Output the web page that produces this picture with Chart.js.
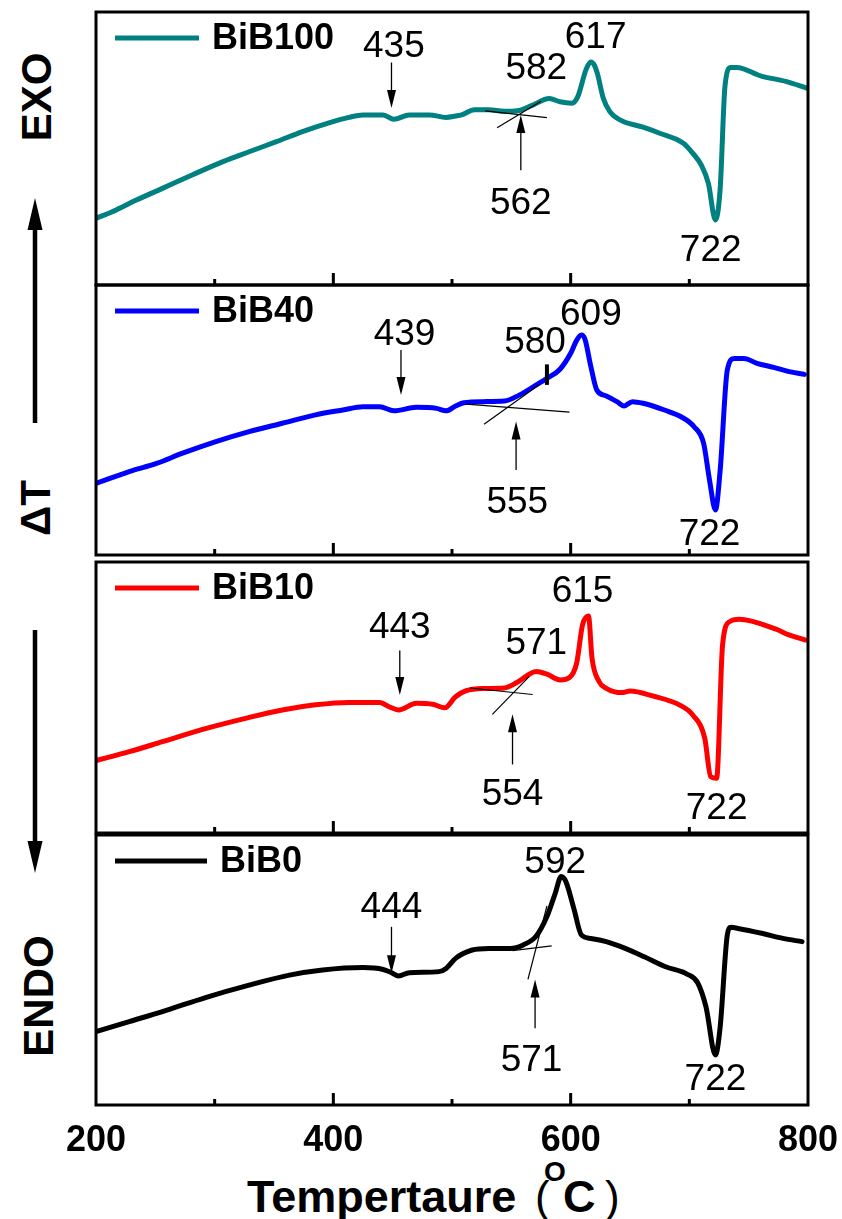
<!DOCTYPE html>
<html>
<head>
<meta charset="utf-8">
<title>DTA BiB</title>
<script src="https://cdn.jsdelivr.net/npm/chart.js@4.4.1/dist/chart.umd.min.js"></script>
<style>
  html, body { margin: 0; background: #fff; }
  #page { position: relative; width: 842px; height: 1219px; overflow: hidden; }
  #page canvas { position: absolute; left: 0; }
  #deco { position: absolute; left: 0; top: 0; }
</style>
</head>
<body>
<div id="page">
  <svg id="deco" width="842" height="1219" font-family="'Liberation Sans', Arial, sans-serif">
    <!-- EXO / ΔT / ENDO と矢印 -->
    <text transform="translate(36,97) rotate(-90)" text-anchor="middle" dominant-baseline="central" font-weight="bold" font-size="42">EXO</text>
    <line x1="35" y1="423" x2="35" y2="225" stroke="#000" stroke-width="4.5"/>
    <polygon points="35,198 27.5,230 42.5,230" fill="#000"/>
    <text transform="translate(35,508) rotate(-90)" text-anchor="middle" dominant-baseline="central" font-weight="bold" font-size="42">ΔT</text>
    <line x1="35" y1="630" x2="35" y2="846" stroke="#000" stroke-width="4.5"/>
    <polygon points="35,873 27.5,841 42.5,841" fill="#000"/>
    <text transform="translate(38,996) rotate(-90)" text-anchor="middle" dominant-baseline="central" font-weight="bold" font-size="42">ENDO</text>
    <!-- x軸タイトル -->
    <text x="247" y="1212" font-weight="bold" font-size="45">Tempertaure</text>
    <text x="535" y="1212" font-size="44">(</text>
    <text x="544" y="1181" font-weight="bold" font-size="28">O</text>
    <text x="563" y="1212" font-weight="bold" font-size="45">C</text>
    <text x="605" y="1212" font-size="44">)</text>
  </svg>
  <canvas id="p0"></canvas>
  <canvas id="p1"></canvas>
  <canvas id="p2"></canvas>
  <canvas id="p3"></canvas>
</div>
<script>
/* DTA曲線 4試料: BiB100 / BiB40 / BiB10 / BiB0 (縦軸は各パネル 0-100 の相対値) */

const X_LABELS = [200, 400, 600, 800];
const MAJOR_TICKS = [400, 600];
const MINOR_TICKS = [300, 500, 700];

const SAMPLES = ["BiB100", "BiB40", "BiB10", "BiB0"];
const COLORS = ["#008080", "#0000ff", "#ff0000", "#000000"];

const bib100T = [200, 217, 234, 256, 281, 307, 329, 352, 374, 397, 413, 425, 442, 451, 464, 481, 495, 503, 508, 519, 531, 544, 555, 567, 582, 591, 601, 606, 613, 617, 620, 622.5, 627.5, 633, 642, 661, 675, 695, 703, 710, 716, 722, 726, 730, 735, 740, 760, 782, 799];
const bib100V = [24.4, 27.5, 31.1, 35.4, 40.3, 45.2, 48.8, 52.5, 56.2, 59.5, 61.4, 62.3, 62.3, 60.7, 62.3, 62.3, 61.4, 61.9, 62.3, 64.2, 64.2, 63.6, 63.8, 65.7, 68.3, 67.1, 66.6, 69, 79, 81.7, 80.5, 77.5, 68.4, 63.5, 60.4, 57.8, 55.6, 51.9, 48.2, 44, 37.3, 23.8, 35.4, 72.6, 79.7, 79.7, 76.6, 74.5, 72.1];

const bib40T = [200, 228, 251, 273, 301, 329, 357, 385, 408, 425, 439, 451, 470, 487, 495, 503, 510, 526, 544, 557, 571, 580, 591, 600, 605, 609, 612, 617, 622, 630, 639, 645, 652, 661, 679, 693, 704, 712, 717, 722, 726, 732, 738, 746, 757, 771, 784, 797];
const bib40V = [26.5, 30.9, 33.9, 37.7, 42, 45.7, 48.8, 51.9, 53.7, 54.9, 54.9, 53.4, 54.7, 54.3, 53.4, 55.2, 56.4, 56.8, 57, 59.3, 63, 65.4, 68.8, 74.7, 79.5, 81.5, 80, 69.8, 61.1, 58.9, 56.8, 55.2, 56.8, 56.2, 53.7, 51.2, 47.5, 41.4, 27.8, 16.7, 31.5, 68.5, 72.8, 72.8, 71, 69.5, 67.9, 66.9];

const bib10T = [200, 228, 256, 293, 326, 357, 385, 413, 439, 447, 455, 470, 484, 494, 503, 512, 526, 544, 555, 571, 580, 591, 599, 605, 610, 615, 618, 624, 630, 643, 650, 669, 692, 703, 713, 718, 723, 728, 734, 742, 773, 784, 798];
const bib10V = [26.7, 30, 33.7, 38.6, 42.3, 45.4, 47.3, 48.2, 48.2, 46.6, 45.4, 47.9, 47.5, 46.2, 50.3, 52.5, 53.3, 53.5, 55.6, 59.6, 58.6, 56.5, 57.4, 62.6, 76.8, 80.1, 64.5, 55.8, 53.4, 51.8, 52.4, 50.6, 47.2, 43.5, 34.9, 20.8, 20.2, 69.4, 78, 78.9, 75.2, 73.1, 71.2];

const bib0T = [200, 228, 256, 293, 329, 363, 391, 425, 442, 449, 455, 464, 489, 495, 503, 517, 531, 549, 560, 571, 580, 587, 592, 596, 603, 609, 617, 630, 646, 662, 680, 698, 707, 714, 722, 726, 732, 735, 741, 761, 779, 795];
const bib0V = [27.2, 30.9, 34.6, 39.9, 44.4, 48.1, 50, 50.9, 50.2, 49, 47.8, 49, 49.4, 50.6, 54.3, 57.4, 58, 58, 59.3, 62.6, 69.8, 78.4, 84.6, 82.7, 72.2, 63, 61.7, 60.5, 58, 54.9, 51.2, 48.5, 45.3, 36.4, 18.5, 29, 63, 65.8, 65.4, 63.6, 61.7, 60.5];

// 温度の書き込み [文字, 温度, 縦位置]
const bib100Notes = [["435", 451, 88.3], ["582", 571, 80.2], ["617", 621, 91.4], ["562", 558, 30.9], ["722", 718, 13.6]];
const bib40Notes = [["439", 460, 82.7], ["580", 570, 79.6], ["609", 617, 90.1], ["555", 555, 20.4], ["722", 717, 8.6]];
const bib10Notes = [["443", 456, 76.8], ["571", 571, 71], ["615", 610, 90.1], ["554", 551, 15.1], ["722", 723, 9.9]];
const bib0Notes = [["444", 449, 74.1], ["592", 587, 90.7], ["571", 567, 17.3], ["722", 722, 10.5]];

// 矢印 [温度, 始点, 先端]
const bib100Arrows = [[449, 81.5, 64.8], [558, 42, 62.3]];
const bib40Arrows = [[457, 75.9, 59.3], [554, 31.5, 49.4]];
const bib10Arrows = [[456, 67.3, 50.9], [551, 25.3, 43.8]];
const bib0Arrows = [[449, 66, 48.8], [570, 28.4, 46.5]];

// 開始温度の接線 [t1, v1, t2, v2]
const bib100Tangents = [[528, 63.8, 580, 61.3], [538, 57.6, 575, 67.3]];
const bib40Tangents = [[512, 55.9, 599, 52.9], [527, 48.4, 574, 63.2]];
const bib10Tangents = [[515, 53.5, 568, 51.1], [534, 43.8, 565, 57.7]];
const bib0Tangents = [[551, 57.2, 584, 58.9], [564, 46.5, 580, 73.7]];

// BiB40 の 580 の印
const bib40Mark = [580, 63, 70.6];

const PANELS = [[12, 285], [285, 555], [562, 833], [835, 1105]];
const FONT = '"Liberation Sans", Arial, Helvetica, sans-serif';

const dtaDecor = {
  id: "dtaDecor",
  afterDatasetsDraw(chart, args, o) {
    const { ctx, chartArea: a, scales: { x, y } } = chart;
    ctx.save();
    ctx.strokeStyle = "#000";
    ctx.fillStyle = "#000";

    // 枠と内向き目盛
    ctx.lineWidth = 3;
    ctx.strokeRect(a.left, a.top, a.right - a.left, a.bottom - a.top);
    ctx.beginPath();
    MAJOR_TICKS.forEach((t) => {
      const px = x.getPixelForValue(t);
      ctx.moveTo(px, a.bottom);
      ctx.lineTo(px, a.bottom - 12);
    });
    MINOR_TICKS.forEach((t) => {
      const px = x.getPixelForValue(t);
      ctx.moveTo(px, a.bottom);
      ctx.lineTo(px, a.bottom - 6);
    });
    ctx.stroke();

    // 凡例
    const ly = a.top + 26;
    ctx.strokeStyle = o.color;
    ctx.lineWidth = 5;
    ctx.beginPath();
    ctx.moveTo(a.left + 19, ly);
    ctx.lineTo(a.left + o.lineEnd, ly);
    ctx.stroke();
    ctx.font = `bold 36px ${FONT}`;
    ctx.textAlign = "left";
    ctx.textBaseline = "middle";
    ctx.fillText(o.name, a.left + o.lineEnd + 13, ly + 1);

    // 矢印
    ctx.strokeStyle = "#000";
    ctx.lineWidth = 1.3;
    o.arrows.forEach(([t, from, to]) => {
      const px = x.getPixelForValue(t);
      const y0 = y.getPixelForValue(from);
      const y1 = y.getPixelForValue(to);
      const dir = Math.sign(y1 - y0);
      ctx.beginPath();
      ctx.moveTo(px, y0);
      ctx.lineTo(px, y1 - dir * 12);
      ctx.stroke();
      ctx.beginPath();
      ctx.moveTo(px, y1);
      ctx.lineTo(px - 4.5, y1 - dir * 18);
      ctx.lineTo(px + 4.5, y1 - dir * 18);
      ctx.closePath();
      ctx.fill();
    });

    // 温度の数字
    ctx.font = `37px ${FONT}`;
    ctx.textAlign = "center";
    ctx.textBaseline = "alphabetic";
    o.notes.forEach(([s, t, v]) => {
      ctx.fillText(s, x.getPixelForValue(t), y.getPixelForValue(v) + 13);
    });
    ctx.restore();
  },
};

function pts(T, V) {
  return T.map((t, i) => ({ x: t, y: V[i] }));
}

function makePanel(i, T, V, notes, arrows, tangents, extra) {
  const [top, bottom] = PANELS[i];
  const last = i === PANELS.length - 1;
  const canvas = document.getElementById("p" + i);
  canvas.width = 842;
  canvas.height = bottom - top + 20 + (last ? 60 : 20);
  canvas.style.top = top - 20 + "px";

  const datasets = [
    {
      data: pts(T, V),
      borderColor: COLORS[i],
      borderWidth: 5,
      pointRadius: 0,
      cubicInterpolationMode: "monotone",
      borderJoinStyle: "round",
      borderCapStyle: "round",
      order: 2,
    },
  ];
  tangents.forEach(([t1, v1, t2, v2]) => {
    datasets.push({
      data: [{ x: t1, y: v1 }, { x: t2, y: v2 }],
      borderColor: "#000",
      borderWidth: 1.2,
      pointRadius: 0,
      order: 1,
    });
  });
  if (extra) {
    datasets.push({
      data: [{ x: extra[0], y: extra[1] }, { x: extra[0], y: extra[2] }],
      borderColor: "#000",
      borderWidth: 4,
      pointRadius: 0,
      order: 0,
    });
  }

  const xScale = {
    type: "linear",
    min: 200,
    max: 800,
    display: false,
  };
  if (last) {
    // 最下段のみ温度目盛の数字を出す
    Object.assign(xScale, {
      display: true,
      grid: { display: false, drawTicks: false },
      border: { display: false },
      afterBuildTicks: (s) => {
        s.ticks = X_LABELS.map((value) => ({ value }));
      },
      afterFit: (s) => {
        s.height = 60;
        s.paddingLeft = 0;
        s.paddingRight = 0;
      },
      ticks: {
        color: "#000",
        padding: 14,
        maxRotation: 0,
        font: { family: FONT, size: 36, weight: "bold" },
      },
    });
  }

  new Chart(canvas, {
    type: "line",
    data: { datasets },
    options: {
      responsive: false,
      animation: false,
      events: [],
      layout: { padding: { left: 96, right: 34, top: 20, bottom: last ? 0 : 20 } },
      scales: {
        x: xScale,
        y: { type: "linear", min: 0, max: 100, display: false },
      },
      plugins: {
        legend: { display: false },
        tooltip: { enabled: false },
        dtaDecor: {
          name: SAMPLES[i],
          color: COLORS[i],
          lineEnd: last ? 111 : 103,
          notes,
          arrows,
        },
      },
    },
    plugins: [dtaDecor],
  });
}

makePanel(0, bib100T, bib100V, bib100Notes, bib100Arrows, bib100Tangents);
makePanel(1, bib40T, bib40V, bib40Notes, bib40Arrows, bib40Tangents, bib40Mark);
makePanel(2, bib10T, bib10V, bib10Notes, bib10Arrows, bib10Tangents);
makePanel(3, bib0T, bib0V, bib0Notes, bib0Arrows, bib0Tangents);
</script>
</body>
</html>
